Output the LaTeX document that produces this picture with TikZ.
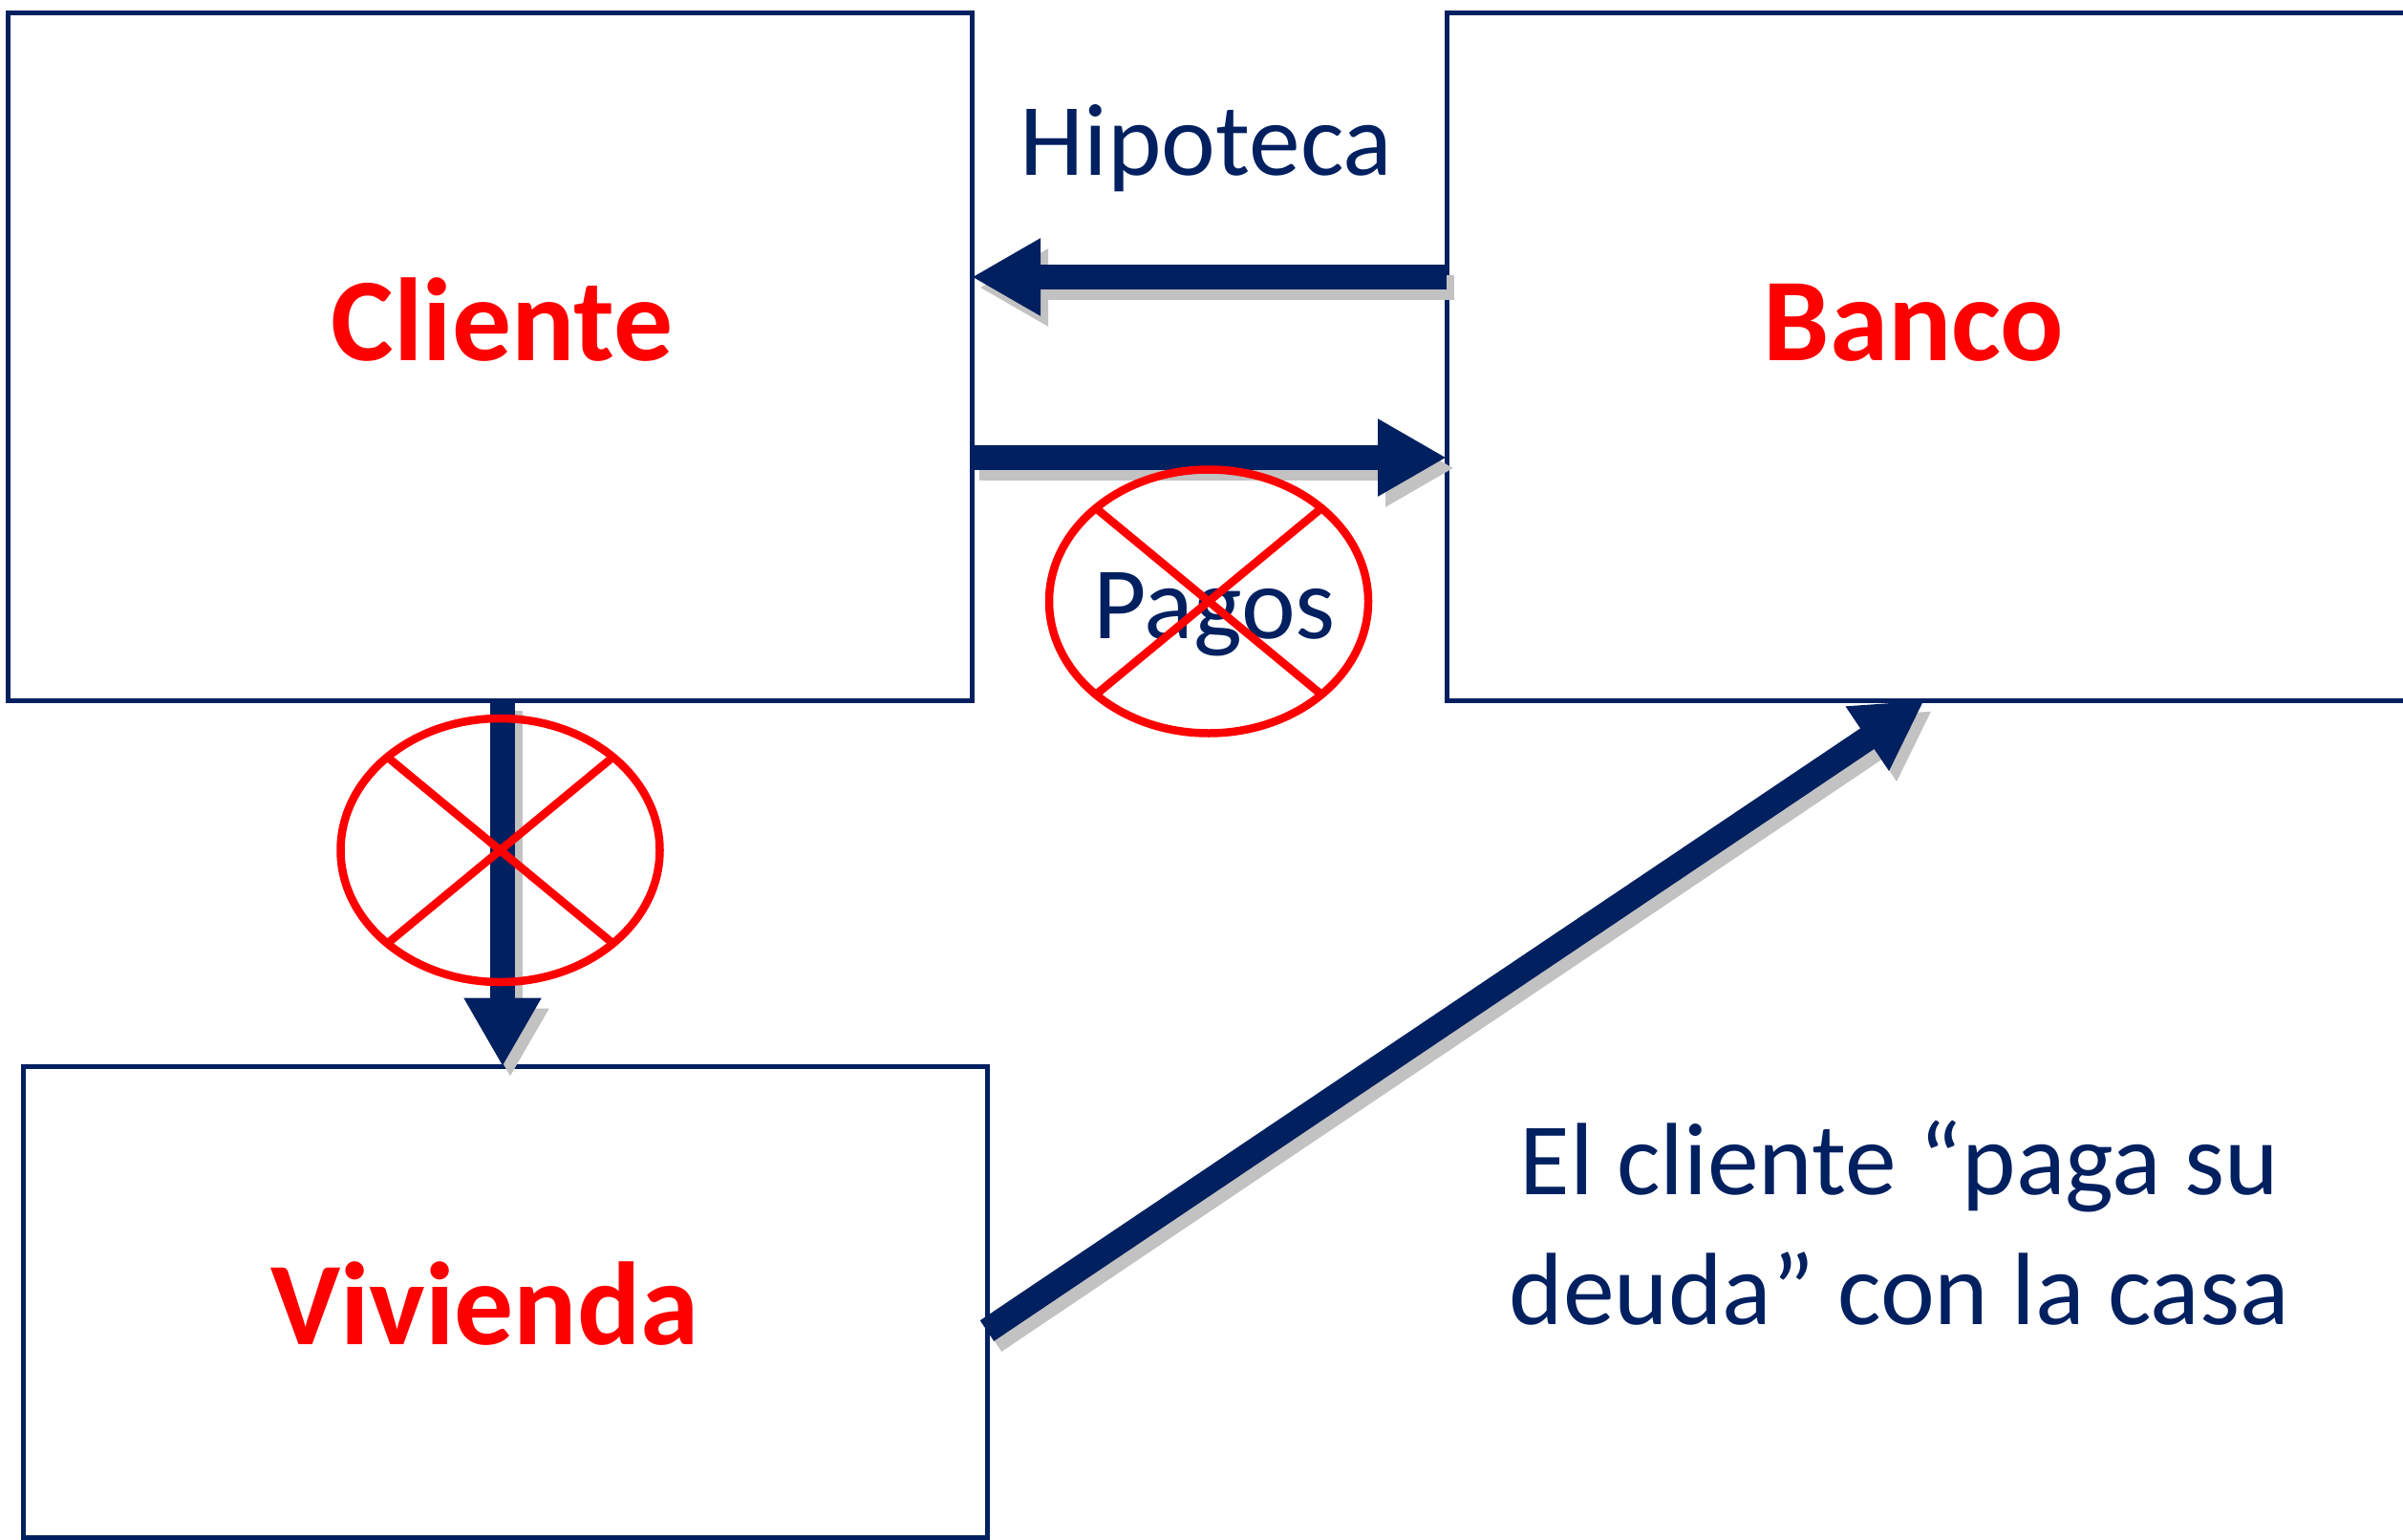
\documentclass[tikz,border=0pt]{standalone}
\usepackage{fontspec}
\setmainfont{Carlito}
\usetikzlibrary{arrows.meta,shapes.geometric}

\definecolor{deepblue}{RGB}{0,32,96}
\definecolor{alertred}{RGB}{255,0,0}

\tikzstyle{box}   = [draw=deepblue, rectangle, line width=0.05cm, inner sep=0pt, outer sep=0pt]
\tikzstyle{flow}  = [deepblue, line width=0.26cm, -{Triangle[length=0.72cm,width=0.76cm]}]
\tikzstyle{flowshadow} = [black!24, line width=0.26cm, -{Triangle[length=0.72cm,width=0.76cm]},
                          transform canvas={xshift=0.08cm,yshift=-0.11cm}]
\tikzstyle{nope}  = [draw=alertred, ellipse, line width=0.085cm, minimum width=3.34cm,
                     minimum height=2.76cm, inner sep=0pt, outer sep=0pt]
\tikzstyle{cross} = [alertred, line width=0.085cm]
\tikzstyle{actor} = [alertred, font=\fontsize{35.2}{42}\selectfont\bfseries, anchor=base]
\tikzstyle{note}  = [deepblue, font=\fontsize{30.6}{38.6}\selectfont, anchor=base]

\begin{document}
\begin{tikzpicture}
  \useasboundingbox (0,0) rectangle (25.15,-16.11);
  \node at (5.1275,-3.7325) (cliente)  [box, minimum width=10.085cm, minimum height=7.195cm] {};
  \node at (20.1825,-3.7325) (banco)   [box, minimum width=10.085cm, minimum height=7.195cm] {};
  \node at (5.285,-13.6275) (vivienda) [box, minimum width=10.09cm, minimum height=4.925cm] {};
  \node at (5.255,-3.77) (cliente-txt)   [actor] {Cliente};
  \node at (20.03,-3.77) (banco-txt)     [actor] {Banco};
  \node at (5.075,-14.07) (vivienda-txt) [actor] {Vivienda};

  % shadows first, then the arrows on top
  \draw[flowshadow] ([yshift=-2.765cm]banco.north west) -- ([yshift=-2.765cm]cliente.north east);
  \draw[flowshadow] ([yshift=-4.655cm]cliente.north east) -- ([yshift=-4.655cm]banco.north west);
  \draw[flowshadow] ([xshift=5.175cm]cliente.south west) -- ([xshift=5.175cm]cliente.south west |- vivienda.north);
  \draw[flowshadow] ([yshift=-2.765cm]vivienda.north east) -- ([xshift=5.0cm]banco.south west);
  \draw[flow] ([yshift=-2.765cm]banco.north west) -- ([yshift=-2.765cm]cliente.north east);
  \draw[flow] ([yshift=-4.655cm]cliente.north east) -- ([yshift=-4.655cm]banco.north west);
  \draw[flow] ([xshift=5.175cm]cliente.south west) -- ([xshift=5.175cm]cliente.south west |- vivienda.north);
  \draw[flow] ([yshift=-2.765cm]vivienda.north east) -- ([xshift=5.0cm]banco.south west);

  \node at (12.625,-1.83) (hipoteca) [note] {Hipoteca};
  \node at (12.71,-6.68) (pagos)     [note] {Pagos};
  \node at (19.88,-13.86) (nota)     [note, align=center] {El cliente “paga su\\deuda” con la casa};

  % crossed-out flows
  \node at (12.65,-6.295) (no-pago)  [nope] {};
  \node at (5.235,-8.90) (no-casa)   [nope] {};
  \draw[cross] (no-pago.north west) -- (no-pago.south east) (no-pago.north east) -- (no-pago.south west);
  \draw[cross] (no-casa.north west) -- (no-casa.south east) (no-casa.north east) -- (no-casa.south west);
\end{tikzpicture}
\end{document}
